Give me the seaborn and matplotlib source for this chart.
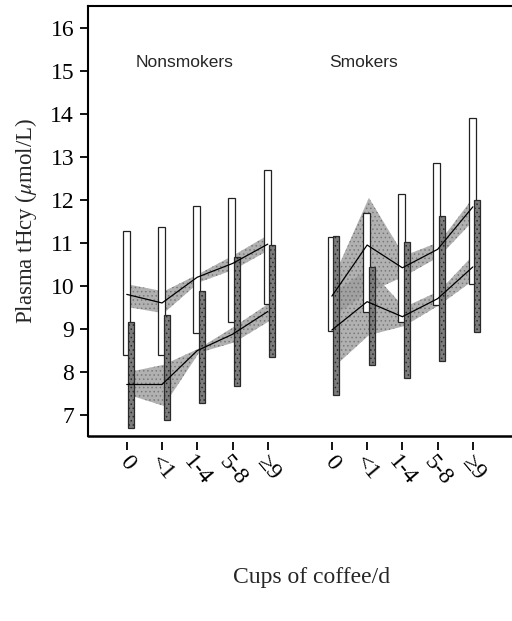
import numpy as np
import pandas as pd
import seaborn as sns
import matplotlib.pyplot as plt

# Cups of coffee per day (same categories for both smoking groups)
cups = ["0", "<1", "1-4", "5-8", "\u22659"]
groups = ["Nonsmokers", "Smokers"]

# Open (white) bars: low / high ends
ns_open_lo = [8.38, 8.38, 8.89, 9.16, 9.57]
ns_open_hi = [11.28, 11.37, 11.86, 12.05, 12.70]
sm_open_lo = [8.94, 9.40, 9.16, 9.55, 10.04]
sm_open_hi = [11.14, 11.70, 12.13, 12.87, 13.92]

# Dark (stippled) bars: low / high ends
ns_dark_lo = [6.69, 6.88, 7.28, 7.66, 8.35]
ns_dark_hi = [9.16, 9.33, 9.88, 10.67, 10.96]
sm_dark_lo = [7.45, 8.15, 7.84, 8.24, 8.93]
sm_dark_hi = [11.17, 10.44, 11.03, 11.63, 12.01]

# Upper curve (mean with band)
ns_up_mean = [9.80, 9.60, 10.20, 10.52, 10.97]
ns_up_lo = [9.50, 9.36, 10.08, 10.38, 10.84]
ns_up_hi = [10.03, 9.87, 10.28, 10.72, 11.20]
sm_up_mean = [9.76, 10.95, 10.42, 10.85, 11.84]
sm_up_lo = [9.30, 9.85, 10.22, 10.68, 11.55]
sm_up_hi = [10.20, 12.05, 10.70, 11.02, 12.10]

# Lower curve (mean with band)
ns_low_mean = [7.70, 7.70, 8.49, 8.87, 9.40]
ns_low_lo = [7.46, 7.20, 8.44, 8.68, 9.18]
ns_low_hi = [7.99, 8.16, 8.54, 9.05, 9.60]
sm_low_mean = [8.97, 9.63, 9.28, 9.70, 10.44]
sm_low_lo = [8.10, 8.85, 9.06, 9.55, 10.15]
sm_low_hi = [9.85, 10.40, 9.50, 9.88, 10.75]

y_ticks = [7, 8, 9, 10, 11, 12, 13, 14, 15, 16]


def main():
    sns.set_style("ticks")
    plt.rcParams["font.family"] = ["Liberation Serif", "DejaVu Serif"]
    plt.rcParams["mathtext.fontset"] = "stix"
    plt.rcParams["hatch.linewidth"] = 0.6

    fig = plt.figure(figsize=(5.12, 6.21), dpi=100)
    ax = fig.add_axes([88 / 512, 1 - 436 / 621, 1 - 88 / 512, 430 / 621])

    # bottom axis line drawn separately so the ticks sit below it with a gap
    # (set before the tick labels, since moving a spine resets the ticks)
    ax.spines["bottom"].set_position(("outward", 4))
    ax.spines["bottom"].set_visible(False)
    ax.spines["right"].set_visible(False)
    for side in ["left", "top"]:
        ax.spines[side].set_linewidth(1.5)
        ax.spines[side].set_color("black")

    pos_ns = np.arange(len(cups), dtype=float)
    pos_sm = pos_ns + 5.82

    series = [
        (pos_ns, ns_open_lo, ns_open_hi, ns_dark_lo, ns_dark_hi,
         ns_up_mean, ns_up_lo, ns_up_hi, ns_low_mean, ns_low_lo, ns_low_hi),
        (pos_sm, sm_open_lo, sm_open_hi, sm_dark_lo, sm_dark_hi,
         sm_up_mean, sm_up_lo, sm_up_hi, sm_low_mean, sm_low_lo, sm_low_hi),
    ]

    for (pos, o_lo, o_hi, d_lo, d_hi,
         u_m, u_lo, u_hi, l_m, l_lo, l_hi) in series:
        # shaded confidence bands
        for lo, hi in [(u_lo, u_hi), (l_lo, l_hi)]:
            ax.fill_between(pos + 0.05, lo, hi, facecolor="#9e9e9e",
                            edgecolor="#6f6f6f", hatch="....", lw=0,
                            alpha=0.8, zorder=1)
        # open bars
        o_lo = np.array(o_lo)
        ax.bar(pos - 0.02, np.array(o_hi) - o_lo, bottom=o_lo, width=0.2,
               facecolor="white", edgecolor="#222222", lw=0.9, zorder=2)
        # dark stippled bars
        d_lo = np.array(d_lo)
        ax.bar(pos + 0.13, np.array(d_hi) - d_lo, bottom=d_lo, width=0.17,
               facecolor="#7c7c7c", edgecolor="#2a2a2a", hatch="....",
               lw=0.9, zorder=3)
        # mean lines
        df = pd.DataFrame({"x": pos, "upper": u_m, "lower": l_m})
        sns.lineplot(data=df, x="x", y="upper", color="black", lw=0.9,
                     ax=ax, zorder=4)
        sns.lineplot(data=df, x="x", y="lower", color="black", lw=0.9,
                     ax=ax, zorder=4)

    # group titles
    for xc, name in zip([1.63, 6.71], groups):
        ax.text(xc, 15.2, name, ha="center", va="center", fontsize=12.5,
                family=["Liberation Sans", "DejaVu Sans"])

    ax.set_xlim(-1.1, 10.93)
    ax.set_ylim(6.5, 16.52)
    ax.axhline(6.5, color="black", lw=1.8, clip_on=False, zorder=5)

    ax.set_yticks(y_ticks)
    ax.set_yticklabels([str(t) for t in y_ticks], fontsize=17)
    ax.set_xticks(np.concatenate([pos_ns, pos_sm]))
    ax.set_xticklabels(cups + cups, fontsize=17, rotation=-50,
                       ha="center", va="top")

    ax.set_xlabel("Cups of coffee/d", fontsize=17)
    ax.xaxis.set_label_coords(0.528, -0.328)
    ax.xaxis.label.set_va("center")
    ax.set_ylabel(r"Plasma tHcy ($\mu$mol/L)", fontsize=16.5, labelpad=8)

    ax.tick_params(axis="y", direction="out", length=6, width=1.3,
                   colors="black", pad=4)
    ax.tick_params(axis="x", direction="out", length=6, width=1.3,
                   colors="black", pad=1)

    fig.savefig("out.png", dpi=100)


if __name__ == "__main__":
    main()
